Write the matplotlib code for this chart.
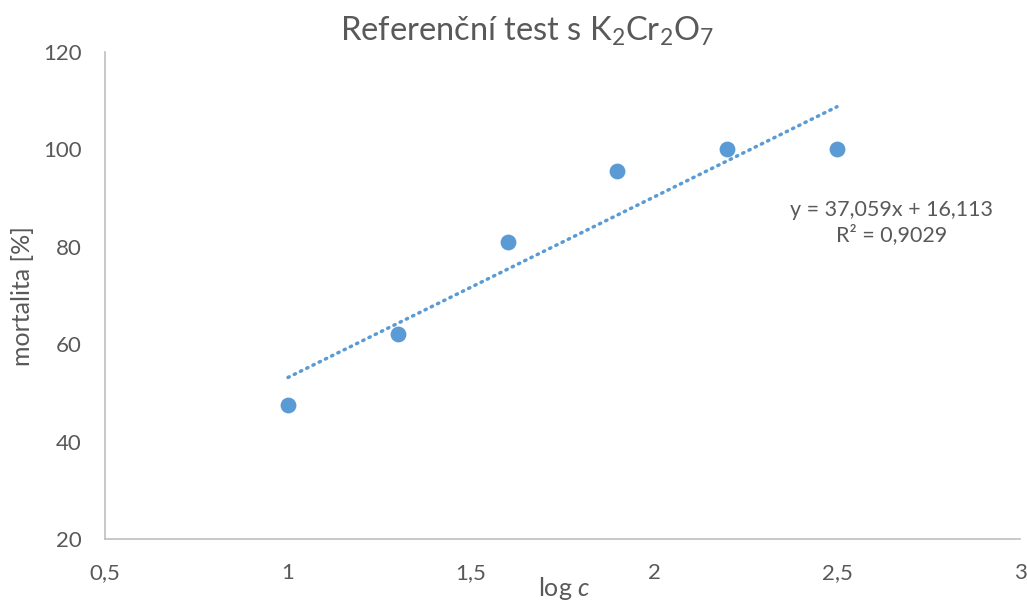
import numpy as np
import matplotlib.pyplot as plt

# data
log_c = [1.0, 1.3, 1.6, 1.9, 2.2, 2.5]
mortalita = [47.5, 62, 81, 95.5, 100, 100]

# Excel trendline coefficients
slope = 37.059
intercept = 16.113
r2 = 0.9029

x_ticks = [0.5, 1, 1.5, 2, 2.5, 3]
y_ticks = [20, 40, 60, 80, 100, 120]

blue = '#5B9BD5'
grey_text = '#595959'
plt.rcParams['font.family'] = ['Lato', 'DejaVu Sans']
plt.rcParams['mathtext.fontset'] = 'custom'
plt.rcParams['mathtext.rm'] = 'Lato'
plt.rcParams['mathtext.it'] = 'Lato:italic'

fig = plt.figure(figsize=(10.27, 6.01), dpi=100)
ax = fig.add_axes([105 / 1027, 1 - 539 / 601, (1020 - 105) / 1027, (539 - 52) / 601])

ax.scatter(log_c, mortalita, s=130, color=blue, zorder=3, linewidths=0)

# trendline
xt = np.array([min(log_c), max(log_c)])
ax.plot(xt, slope * xt + intercept, color=blue, lw=2.5, linestyle=(0, (0.4, 1.6)),
        dash_capstyle='round', zorder=2)

ax.set_xlim(0.5, 3)
ax.set_ylim(20, 120)
ax.set_xticks(x_ticks)
ax.set_yticks(y_ticks)
ax.set_xticklabels([f'{t:g}'.replace('.', ',') for t in x_ticks])
ax.set_yticklabels([str(t) for t in y_ticks])
ax.tick_params(length=0, labelsize=16, colors=grey_text)
ax.tick_params(axis='x', pad=17)
ax.tick_params(axis='y', pad=17)

for s in ['top', 'right']:
    ax.spines[s].set_visible(False)
for s in ['left', 'bottom']:
    ax.spines[s].set_color('#BFBFBF')
    ax.spines[s].set_linewidth(1.2)

eq = f'y = {slope:.3f}x + {intercept:.3f}\nR² = {r2:.4f}'.replace('.', ',')
ax.text(2.65, 85, eq, ha='center', va='center', fontsize=15.5, color=grey_text,
        linespacing=1.25)

fig.text(0.513, 0.948, r'Referenční test s K$_2$Cr$_2$O$_7$', ha='center', va='center',
         fontsize=23.5, color=grey_text)
fig.text(0.022, 0.508, 'mortalita [%]', rotation=90, ha='center', va='center',
         fontsize=18, color=grey_text)
fig.text(0.549, 0.02, r'log $\it{c}$', ha='center', va='center', fontsize=18,
         color=grey_text)

fig.savefig('out.png', dpi=100)
